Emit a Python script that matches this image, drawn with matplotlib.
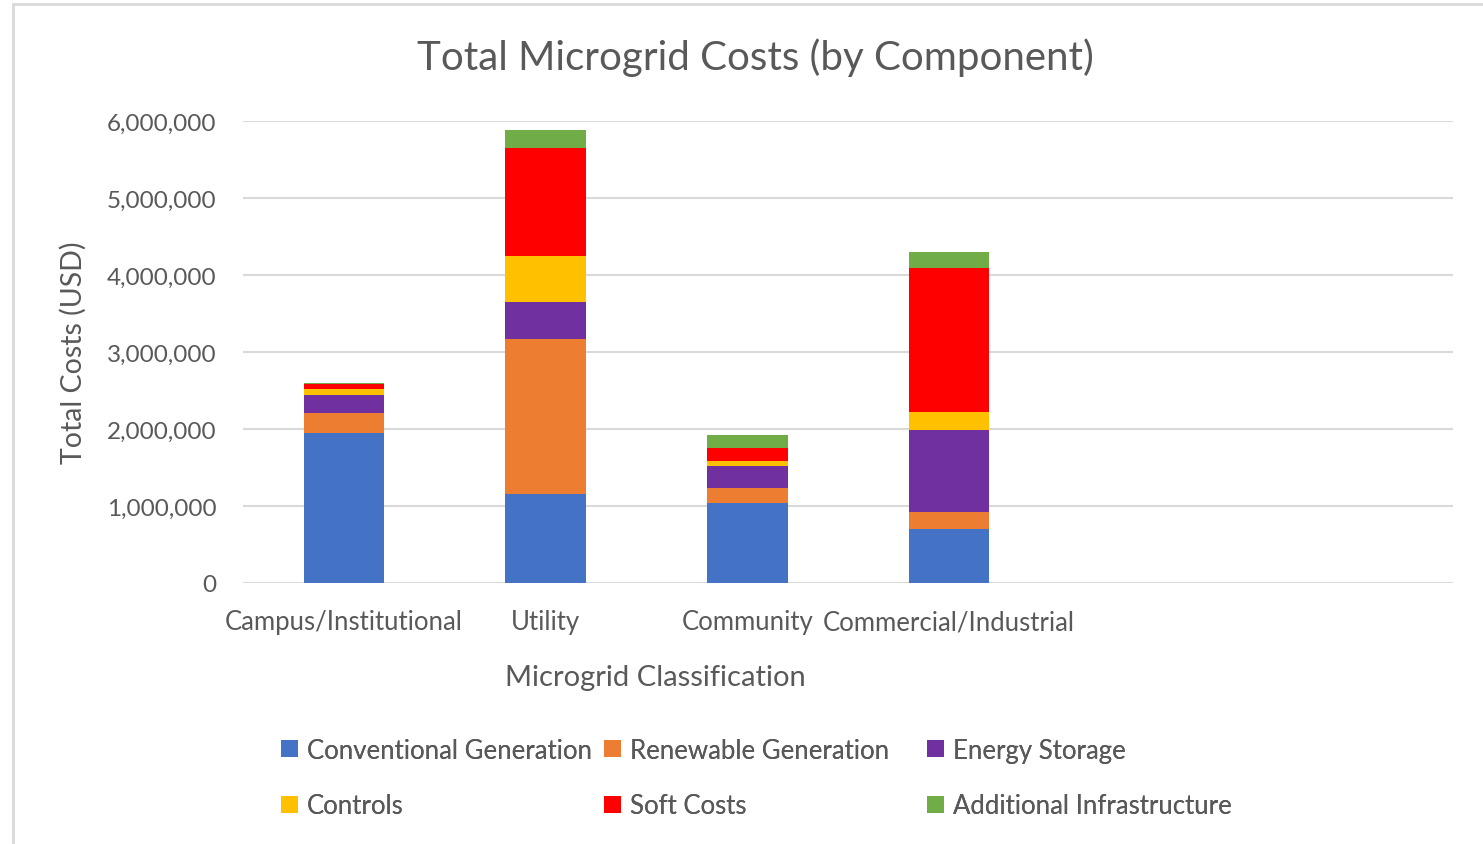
import matplotlib.pyplot as plt
import numpy as np
from matplotlib.ticker import FuncFormatter
from matplotlib.patches import Rectangle

categories = ['Campus/Institutional', 'Utility', 'Community', 'Commercial/Industrial', '', '']
conventional = [1950000, 1156000, 1035000, 701000, 0, 0]
renewable = [255000, 2017000, 194000, 217000, 0, 0]
storage = [235000, 472000, 295000, 1069000, 0, 0]
controls = [78000, 598000, 65000, 230000, 0, 0]
soft = [70000, 1402000, 160000, 1870000, 0, 0]
additional = [12000, 238000, 177000, 216000, 0, 0]

series = [
    ('Conventional Generation', conventional, '#4472c4'),
    ('Renewable Generation', renewable, '#ed7d31'),
    ('Energy Storage', storage, '#7030a0'),
    ('Controls', controls, '#ffc000'),
    ('Soft Costs', soft, '#ff0000'),
    ('Additional Infrastructure', additional, '#70ad47'),
]

plt.rcParams['font.family'] = ['Lato', 'DejaVu Sans']
txt = '#595959'

fig = plt.figure(figsize=(14.83, 8.45), dpi=100)
ax = fig.add_axes([243/1483, 1-584/845, (1453-243)/1483, (584-122)/845])

x = np.arange(len(categories))
bottom = np.zeros(len(categories))
handles = []
for name, vals, col in series:
    vals = np.array(vals, dtype=float)
    b = ax.bar(x, vals, 0.4, bottom=bottom, color=col, label=name, zorder=3, linewidth=0)
    handles.append(b)
    bottom += vals

ax.set_xlim(-0.5, len(categories) - 0.5)
ax.set_ylim(0, 6000000)
ax.set_yticks(np.arange(0, 6000001, 1000000))
ax.yaxis.set_major_formatter(FuncFormatter(lambda v, p: f'{int(v):,}'))
ax.grid(axis='y', color='#d9d9d9', linewidth=1.5, zorder=0)
for s in ax.spines.values():
    s.set_visible(False)
ax.tick_params(axis='both', length=0, labelcolor=txt)
ax.tick_params(axis='y', pad=19, labelsize=17.5)
ax.tick_params(axis='x', pad=19, labelsize=18.5)
ax.set_xticks(x)
ax.set_xticklabels(categories)

fig.text(755/1483, 1-58/845, 'Total Microgrid Costs (by Component)', ha='center', va='center',
         fontsize=29, color=txt)
fig.text(73/1483, 1-353/845, 'Total Costs (USD)', ha='center', va='center', rotation=90,
         fontsize=20.5, color=txt)
fig.text(655/1483, 1-678/845, 'Microgrid Classification', ha='center', va='center',
         fontsize=21, color=txt)

# excel style legend: equal width columns, filled row by row
col_x = [281, 604, 927]
for c in range(3):
    idx = [c, c + 3]
    lg = fig.legend(handles=[handles[i] for i in idx], labels=[series[i][0] for i in idx],
                    loc='center left', bbox_to_anchor=(col_x[c]/1483, 1-779/845), frameon=False,
                    fontsize=18.5, labelcolor=txt, handlelength=0.65, handleheight=0.65,
                    handletextpad=0.35, labelspacing=1.2, borderpad=0, borderaxespad=0)
    fig.add_artist(lg)

fig.patches.append(Rectangle((13/1483, -0.01), 1.1, 1-5/845 + 0.01, transform=fig.transFigure,
                             fill=False, edgecolor='#d9d9d9', linewidth=2))

fig.savefig('out.png', dpi=100)
